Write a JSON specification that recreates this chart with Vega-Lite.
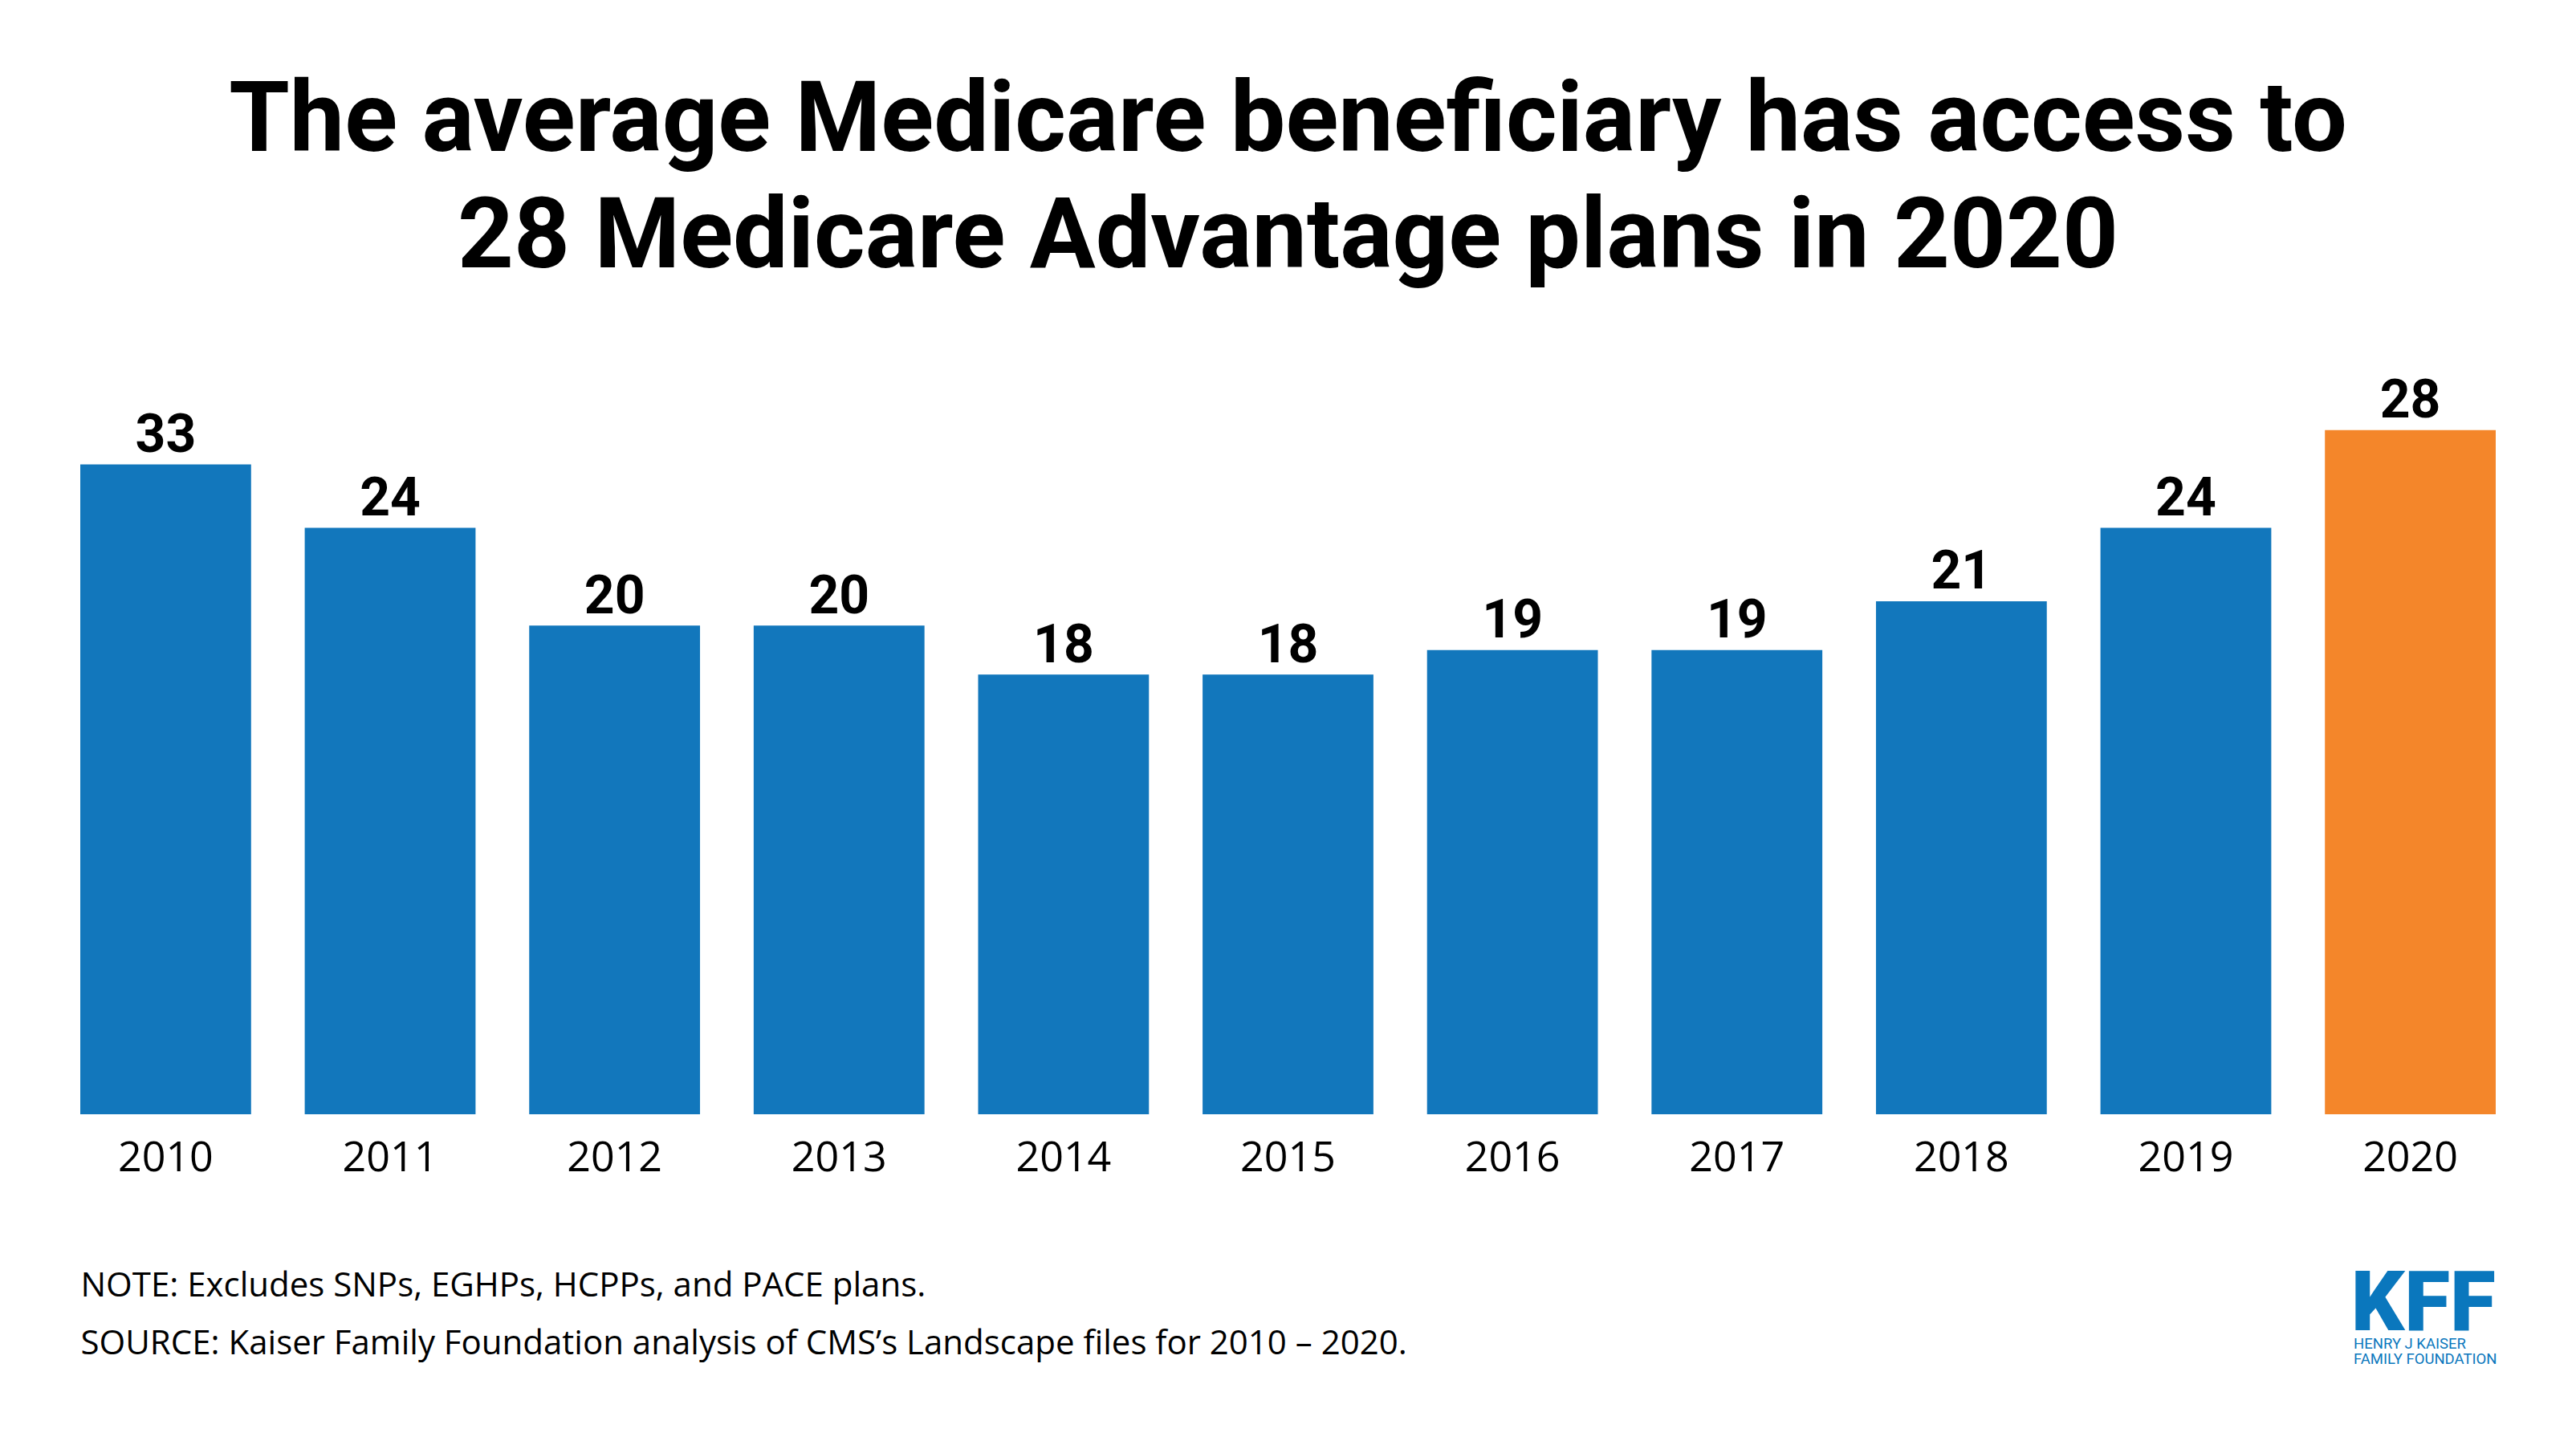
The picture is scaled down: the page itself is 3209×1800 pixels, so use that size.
{
  "$schema": "https://vega.github.io/schema/vega-lite/v6.json",
  "width": 3009,
  "height": 913,
  "autosize": {"type": "none"},
  "padding": {"top": 475, "left": 100, "right": 100, "bottom": 412},
  "background": "#ffffff",
  "title": {
    "text": ["The average Medicare beneficiary has access to", "28 Medicare Advantage plans in 2020"],
    "font": "Roboto",
    "fontSize": 122,
    "fontWeight": "bold",
    "color": "#000000",
    "anchor": "middle",
    "lineHeight": 145.6,
    "baseline": "alphabetic",
    "offset": 12
  },
  "data": {
    "values": [
      {"year": "2010", "plans": 33, "bar": 26.6},
      {"year": "2011", "plans": 24, "bar": 24},
      {"year": "2012", "plans": 20, "bar": 20},
      {"year": "2013", "plans": 20, "bar": 20},
      {"year": "2014", "plans": 18, "bar": 18},
      {"year": "2015", "plans": 18, "bar": 18},
      {"year": "2016", "plans": 19, "bar": 19},
      {"year": "2017", "plans": 19, "bar": 19},
      {"year": "2018", "plans": 21, "bar": 21},
      {"year": "2019", "plans": 24, "bar": 24},
      {"year": "2020", "plans": 28, "bar": 28}
    ]
  },
  "layer": [
    {
      "mark": {"type": "bar"},
      "encoding": {
        "x": {
          "field": "year",
          "type": "nominal",
          "sort": null,
          "scale": {"paddingInner": 0.239, "paddingOuter": 0},
          "axis": {
            "title": ["NOTE: Excludes SNPs, EGHPs, HCPPs, and PACE plans.", "SOURCE: Kaiser Family Foundation analysis of CMS’s Landscape files for 2010 – 2020."],
            "titleFont": "Open Sans",
            "titleFontSize": 42,
            "titleFontWeight": "normal",
            "titleColor": "#000000",
            "titleAnchor": "start",
            "titleAlign": "left",
            "titleBaseline": "alphabetic",
            "titleLineHeight": 72,
            "titleX": 0,
            "titleY": 226,
            "labelFont": "Open Sans",
            "labelFontSize": 52,
            "labelColor": "#000000",
            "labelAngle": 0,
            "labelPadding": 29,
            "ticks": false,
            "tickSize": 0,
            "domain": false,
            "grid": false
          }
        },
        "y": {
          "field": "bar",
          "type": "quantitative",
          "scale": {"domain": [0, 30], "nice": false, "zero": true},
          "axis": null
        },
        "color": {
          "condition": {"test": "datum.year === '2020'", "value": "#f4862a"},
          "value": "#1277bc"
        }
      }
    },
    {
      "mark": {"type": "text", "font": "Roboto", "fontSize": 66, "fontWeight": "bold", "color": "#000000", "baseline": "alphabetic", "align": "center", "dy": -15.5},
      "encoding": {
        "x": {"field": "year", "type": "nominal", "sort": null},
        "y": {"field": "bar", "type": "quantitative"},
        "text": {"field": "plans", "type": "quantitative"}
      }
    },
    {
      "data": {"values": [{"logo": "KFF"}]},
      "mark": {"type": "text", "font": "Roboto", "fontSize": 104, "fontWeight": 900, "color": "#0a77bd", "baseline": "alphabetic", "align": "right", "x": "width", "y": "height", "dy": 269},
      "encoding": {
        "text": {"field": "logo", "type": "nominal"}
      }
    },
    {
      "data": {"values": [{"logo": ["HENRY J KAISER", "FAMILY FOUNDATION"]}]},
      "mark": {"type": "text", "font": "Roboto", "fontSize": 18.5, "fontWeight": "normal", "color": "#0a77bd", "baseline": "alphabetic", "align": "left", "lineHeight": 18.7, "x": "width", "y": "height", "dx": -177, "dy": 292},
      "encoding": {
        "text": {"field": "logo"}
      }
    }
  ],
  "config": {
    "view": {"stroke": null}
  }
}
